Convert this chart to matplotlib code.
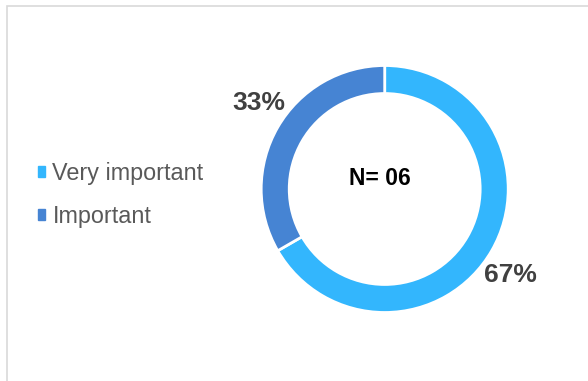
import matplotlib.pyplot as plt
import matplotlib.patches as mpatches
import numpy as np

labels = ['Very important', 'Important']
values = [4, 2]
colors = ['#33b6fd', '#4684d3']
pct_labels = ['67%', '33%']
center_text = 'N= 06'

plt.rcParams['font.family'] = ['Liberation Sans', 'DejaVu Sans']

fig = plt.figure(figsize=(5.88, 3.81), dpi=100)
W, H = 588, 381

# light frame around the chart area
fig.patches.append(mpatches.Rectangle((7 / W, -0.1), 1.2, (H - 5.5) / H + 0.1,
                                      transform=fig.transFigure, fill=False,
                                      edgecolor='#d9d9d9', linewidth=1.2))

# donut axes (center ~ (384.7, 189) px, radius ~123.5 px)
cx, cy, r = 384.7, 189.0, 123.5
ax = fig.add_axes([(cx - r) / W, (H - cy - r) / H, 2 * r / W, 2 * r / H])
wedges, _ = ax.pie(values, colors=colors, startangle=90, counterclock=False,
                   radius=1.0, wedgeprops=dict(width=0.227, edgecolor='white', linewidth=2))
ax.set_xlim(-1, 1)
ax.set_ylim(-1, 1)
ax.set_aspect('equal')
ax.axis('off')

# percentage labels, outside end of each wedge
for w, txt in zip(wedges, pct_labels):
    ang = np.deg2rad((w.theta1 + w.theta2) / 2 - 4.3)
    ax.text(1.23 * np.cos(ang), 1.23 * np.sin(ang), txt, ha='center', va='center',
            fontsize=19, fontweight='bold', color='#404040')

ax.text(-0.038, 0.081, center_text, ha='center', va='center', fontsize=16.5,
        fontweight='bold', color='black')

handles = [mpatches.Patch(color=c) for c in colors]
fig.legend(handles, labels, loc='center left', bbox_to_anchor=(37.5 / W, 1 - 195 / H),
           frameon=False, fontsize=16.8, labelcolor='#595959',
           borderpad=0, borderaxespad=0,
           handlelength=0.34, handleheight=0.34, handletextpad=0.3, labelspacing=0.87)

fig.savefig('out.png', dpi=100)
